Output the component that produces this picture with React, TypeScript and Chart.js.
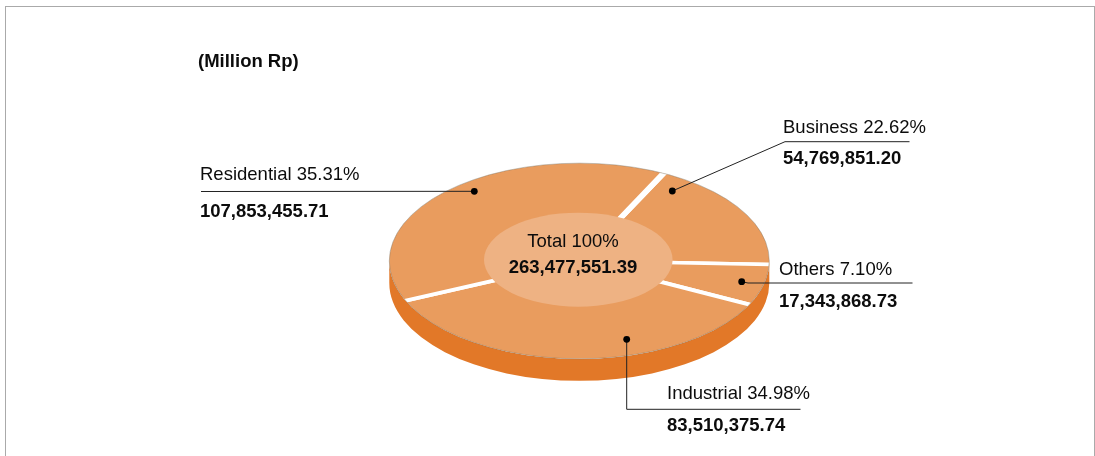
import React, { useEffect, useRef } from "react";
import { Chart, registerables } from "chart.js";

Chart.register(...registerables);

const categories = ["Business", "Others", "Industrial", "Residential"];
const percentLabels = ["22.62%", "7.10%", "34.98%", "35.31%"];
const amountLabels = ["54,769,851.20", "17,343,868.73", "83,510,375.74", "107,853,455.71"];
const drawnShares = [18.25, 6.8, 36.0, 38.95];
const titleText = "(Million Rp)";
const totalLabel = "Total 100%";
const totalAmount = "263,477,551.39";

const WIDTH = 1095;
const HEIGHT = 456;
const CANVAS_HEIGHT = 480;
const FONT = '"Liberation Sans", Arial, sans-serif';
const FONT_SIZE = 18.5;
const RADIUS = 190;
const SQUASH = 0.515;
const DEPTH = 22;
const GAP = 7;

const TOP_COLOR = "#E99C5E";
const SIDE_COLOR = "#E27828";
const HUB_COLOR = "#EEB283";
const INK = "#0c0c0c";

// Label layout: anchor dot, leader path, text position
const callouts = [
  { dot: [672.3, 191], path: [[785, 141.7], [909.5, 141.7]], x: 783, y1: 132.5, y2: 164 },
  { dot: [741.7, 281.7], path: [[748, 283], [912.5, 283]], x: 779, y1: 275, y2: 307 },
  { dot: [626.7, 339.3], path: [[626.7, 409.3], [800.5, 409.3]], x: 667, y1: 399, y2: 431 },
  { dot: [474.3, 191.3], path: [[201, 191.5]], x: 200, y1: 180, y2: 217 },
];

const discPlugin = {
  id: "disc",
  beforeDatasetsDraw(chart: any) {
    const { ctx } = chart;
    const { x, y } = chart.getDatasetMeta(0).data[0];
    const r = RADIUS;
    const ry = r * SQUASH;
    ctx.save();
    // side wall
    ctx.fillStyle = SIDE_COLOR;
    ctx.beginPath();
    ctx.ellipse(x, y + DEPTH, r, ry, 0, 0, Math.PI);
    ctx.lineTo(x - r, y);
    ctx.ellipse(x, y, r, ry, 0, Math.PI, 0, true);
    ctx.closePath();
    ctx.fill();
    ctx.restore();
    // squash the library's arcs into the disc's perspective, trimmed to the rim
    ctx.save();
    ctx.beginPath();
    ctx.ellipse(x, y, r, ry, 0, 0, Math.PI * 2);
    ctx.clip();
    ctx.translate(x, y);
    ctx.scale(1, SQUASH);
    ctx.translate(-x, -y);
  },
  afterDatasetsDraw(chart: any) {
    const { ctx } = chart;
    ctx.restore();
    const { x, y } = chart.getDatasetMeta(0).data[0];
    const r = RADIUS;
    ctx.save();
    // rim
    ctx.strokeStyle = "rgba(110,110,100,0.55)";
    ctx.lineWidth = 0.7;
    ctx.beginPath();
    ctx.ellipse(x, y, r, r * SQUASH, 0, 0, Math.PI * 2);
    ctx.stroke();
    // hub
    ctx.fillStyle = HUB_COLOR;
    ctx.beginPath();
    ctx.ellipse(x - 1, y - 1.3, 94.3, 47, 0, 0, Math.PI * 2);
    ctx.fill();

    // leaders and dots
    ctx.strokeStyle = "#222222";
    ctx.lineWidth = 1;
    ctx.fillStyle = "#000000";
    callouts.forEach((c) => {
      ctx.beginPath();
      ctx.moveTo(c.dot[0], c.dot[1]);
      c.path.forEach((p) => ctx.lineTo(p[0], p[1]));
      ctx.stroke();
      ctx.beginPath();
      ctx.arc(c.dot[0], c.dot[1], 3.4, 0, Math.PI * 2);
      ctx.fill();
    });

    // text
    ctx.fillStyle = INK;
    ctx.textBaseline = "alphabetic";
    ctx.textAlign = "left";
    callouts.forEach((c, i) => {
      ctx.font = `${FONT_SIZE}px ${FONT}`;
      ctx.fillText(`${categories[i]} ${percentLabels[i]}`, c.x, c.y1);
      ctx.font = `bold ${FONT_SIZE}px ${FONT}`;
      ctx.fillText(amountLabels[i], c.x, c.y2);
    });
    ctx.font = `bold ${FONT_SIZE}px ${FONT}`;
    ctx.fillText(titleText, 198, 67);
    ctx.textAlign = "center";
    ctx.font = `${FONT_SIZE}px ${FONT}`;
    ctx.fillText(totalLabel, 573, 246.5);
    ctx.font = `bold ${FONT_SIZE}px ${FONT}`;
    ctx.fillText(totalAmount, 573, 273);
    ctx.restore();
  },
};

export default function App() {
  const ref = useRef<HTMLCanvasElement | null>(null);

  useEffect(() => {
    if (!ref.current) return;
    const cx = 579.3;
    const cy = 261;
    // the library leaves room for the border; half of it then lies outside the clip
    const half = RADIUS + GAP;
    const chart = new Chart(ref.current, {
      type: "doughnut",
      data: {
        labels: categories,
        datasets: [
          {
            data: drawnShares,
            backgroundColor: TOP_COLOR,
            borderColor: "#ffffff",
            borderWidth: GAP,
            borderJoinStyle: "bevel",
            clip: false,
          } as any,
        ],
      },
      options: {
        responsive: false,
        animation: false,
        rotation: 26.3,
        cutout: "38%",
        layout: {
          padding: {
            left: cx - half,
            right: WIDTH - cx - half,
            top: cy - half,
            bottom: CANVAS_HEIGHT - cy - half,
          },
        },
        plugins: { legend: { display: false }, tooltip: { enabled: false }, title: { display: false } },
      },
      plugins: [discPlugin],
    } as any);
    return () => chart.destroy();
  }, []);

  return (
    <div style={{ position: "fixed", left: 0, top: 0, width: WIDTH, height: HEIGHT, background: "#fff", overflow: "hidden" }}>
      <div
        style={{
          position: "absolute",
          left: 5,
          top: 6,
          width: 1088,
          height: 460,
          borderLeft: "1px solid #aaaaaa",
          borderTop: "1px solid #aaaaaa",
          borderRight: "1px solid #aaaaaa",
        }}
      />
      <canvas ref={ref} width={WIDTH} height={CANVAS_HEIGHT} style={{ position: "absolute", left: 0, top: 0, display: "block" }} />
    </div>
  );
}
